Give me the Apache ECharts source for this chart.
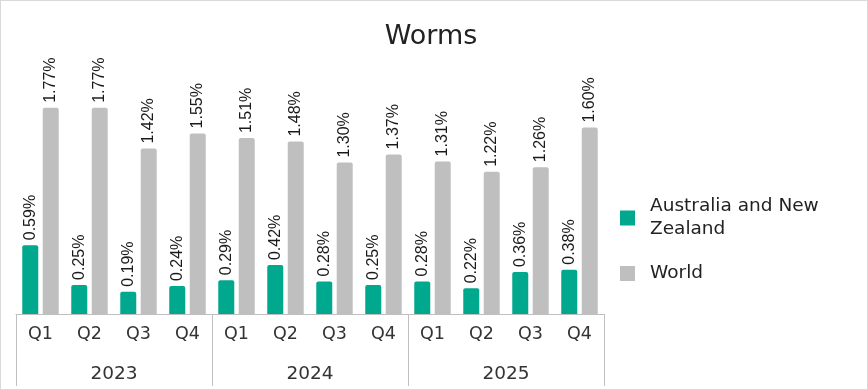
<!DOCTYPE html>
<html><head><meta charset="utf-8">
<script src="https://cdn.jsdelivr.net/npm/echarts@6/dist/echarts.min.js"></script>
<style>
html,body{margin:0;padding:0;background:#fff;}
#c{width:866px;height:388px;border:1px solid #d9d9d9;}
</style></head>
<body><div id="c"></div>
<script>
const quarters = ['Q1','Q2','Q3','Q4','Q1','Q2','Q3','Q4','Q1','Q2','Q3','Q4'];
const years = ['2023','2024','2025'];
const anz = [0.59,0.25,0.19,0.24,0.29,0.42,0.28,0.25,0.28,0.22,0.36,0.38];
const world = [1.77,1.77,1.42,1.55,1.51,1.48,1.30,1.37,1.31,1.22,1.26,1.60];
const FONT = '"DejaVu Sans"';
const LFONT = '"Liberation Sans"';
const chart = echarts.init(document.getElementById('c'));
const lbl = {show:true, position:'top', rotate:90, align:'left', verticalAlign:'middle', distance:5,
  fontFamily:LFONT, fontSize:16, color:'#1a1a1a', formatter:p=>p.value.toFixed(2)+'%'};
chart.setOption({
  animation:false,
  title:{text:'Worms', left:425, top:17, textAlign:'center', textStyle:{fontFamily:FONT, fontSize:27, fontWeight:'normal', color:'#222'}},
  grid:{left:15, right:263, top:80, bottom:75},
  legend:{orient:'vertical', left:614, top:189, itemWidth:15, itemHeight:15, itemGap:21,
    textStyle:{fontFamily:FONT, fontSize:18.5, color:'#222', lineHeight:23, padding:[0,0,0,10]},
    formatter:n=>n==='Australia and New Zealand'?'Australia and New\nZealand':n,
    data:[{name:'Australia and New Zealand', icon:'rect'},{name:'World', icon:'rect'}]},
  xAxis:[
    {type:'category', data:quarters, position:'bottom',
      axisLine:{lineStyle:{color:'#bfbfbf'}},
      axisTick:{alignWithLabel:true, length:8, lineStyle:{color:'#bfbfbf'}},
      axisLabel:{fontFamily:FONT, fontSize:17.5, color:'#333', margin:11}},
    {type:'category', data:years, position:'bottom', offset:0,
      axisLine:{show:false},
      axisTick:{show:true, length:72, lineStyle:{color:'#bfbfbf'}},
      axisLabel:{fontFamily:FONT, fontSize:18.5, color:'#333', margin:51}}
  ],
  yAxis:{type:'value', min:0, max:2, show:false, splitLine:{show:false}},
  series:[
    {name:'Australia and New Zealand', type:'bar', data:anz, barWidth:16, barGap:'28%',
      itemStyle:{color:'#00a88e', borderRadius:[2,2,0,0]}, label:lbl},
    {name:'World', type:'bar', data:world, barWidth:16,
      itemStyle:{color:'#bfbfbf', borderRadius:[2,2,0,0]}, label:lbl}
  ]
});
</script></body></html>
